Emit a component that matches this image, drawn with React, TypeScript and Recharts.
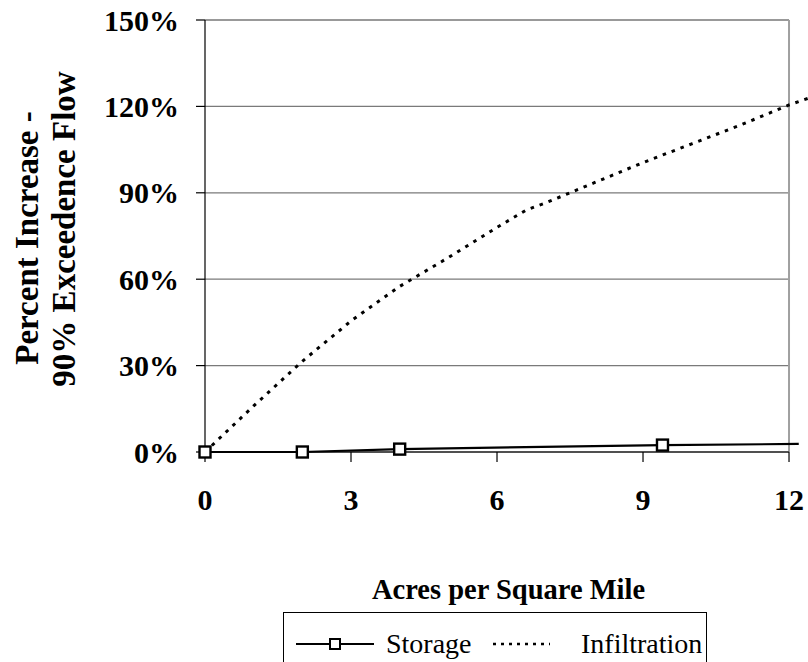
import React from 'react';
import { LineChart, Line, XAxis, YAxis, ReferenceLine, Legend, Label } from 'recharts';

// Acres of control per square mile vs. percent increase in the 90% exceedence flow
const storageAcres = [0, 2, 4, 9.4, 12.2];
const storageIncrease = [0, 0, 1, 2.4, 2.8];

const infiltrationAcres = [0, 1, 2, 3, 4, 5, 6, 6.6, 7, 8, 9, 10, 11, 12, 12.39];
const infiltrationIncrease = [0, 16, 31.5, 45.5, 57.5, 67.5, 78, 84, 86.5, 93.5, 100.5, 107, 113.5, 120.5, 122.8];

const seriesNames = ['Storage', 'Infiltration'];
const xTicks = [0, 3, 6, 9, 12];
const yTicks = [0, 30, 60, 90, 120, 150];
const xTitle = 'Acres per Square Mile';
const yTitleLines = ['Percent Increase -', '90% Exceedence Flow'];

const storageData = storageAcres.map((x, i) => ({ x, y: storageIncrease[i] }));
const infiltrationData = infiltrationAcres.map((x, i) => ({ x, y: infiltrationIncrease[i] }));

const SERIF = "'Liberation Serif', 'Times New Roman', Times, serif";
const X_MAX = 12;

const SquareDot = (props: any) => {
  const { cx, cy, index } = props;
  if (index === storageData.length - 1 || cx == null || cy == null) {
    return <g key={`sq-${index}`} />;
  }
  return (
    <rect
      key={`sq-${index}`}
      x={cx - 5.5}
      y={cy - 5.5}
      width={11}
      height={11}
      fill="#ffffff"
      stroke="#000000"
      strokeWidth={2.4}
    />
  );
};

const textStyle = { fontFamily: SERIF };

const LegendBox = () => (
  <div
    style={{
      width: 424,
      height: 60,
      border: '1px solid #000',
      boxSizing: 'border-box',
      background: '#fff',
    }}
  >
    <svg width={424} height={60} style={{ display: 'block' }}>
      <line x1={12} x2={90} y1={31} y2={31} stroke="#000" strokeWidth={2} />
      <rect x={46} y={26} width={10} height={10} fill="#fff" stroke="#000" strokeWidth={2} />
      <text x={102} y={40} style={{ ...textStyle, fontSize: 28 }} fill="#000">
        {seriesNames[0]}
      </text>
      <line x1={209} x2={266} y1={31} y2={31} stroke="#000" strokeWidth={2.5} strokeDasharray="3 5" />
      <text x={297} y={40} style={{ ...textStyle, fontSize: 28 }} fill="#000">
        {seriesNames[1]}
      </text>
    </svg>
  </div>
);

const XTitle = (props: any) => {
  const vb = props.viewBox || { x: 205, y: 452, width: 603, height: 210 };
  return (
    <text
      x={vb.x + vb.width / 2 + 2}
      y={vb.y + 147}
      textAnchor="middle"
      style={{ ...textStyle, fontWeight: 'bold', fontSize: 28.5 }}
      fill="#000"
    >
      {xTitle}
    </text>
  );
};

const YTitle = (props: any) => {
  const vb = props.viewBox || { x: 0, y: 20, width: 205, height: 432 };
  const mid = vb.y + vb.height / 2;
  const xs = [38, 75];
  const cys = [mid + 2, mid - 7];
  return (
    <g>
      {yTitleLines.map((t, i) => (
        <text
          key={t}
          x={xs[i]}
          y={cys[i]}
          transform={`rotate(-90, ${xs[i]}, ${cys[i]})`}
          textAnchor="middle"
          style={{ ...textStyle, fontWeight: 'bold', fontSize: 33 }}
          fill="#000"
        >
          {t}
        </text>
      ))}
    </g>
  );
};

const tickStyle = { fontFamily: SERIF, fontWeight: 'bold', fontSize: 30, fill: '#000' };

export default function App() {
  return (
    <div
      style={{
        position: 'fixed',
        left: 0,
        top: 0,
        width: 808,
        height: 662,
        background: '#fff',
        fontFamily: SERIF,
      }}
    >
      <LineChart width={808} height={662} margin={{ top: 20, right: 0, bottom: 0, left: 0 }}>
        <XAxis
          type="number"
          dataKey="x"
          domain={[0, 12.39]}
          ticks={xTicks}
          height={210}
          axisLine={false}
          tickLine={{ stroke: '#000', strokeWidth: 1.2 }}
          tickSize={10}
          tickMargin={27}
          tick={tickStyle}
          interval={0}
        >
          <Label content={<XTitle />} />
        </XAxis>
        <YAxis
          type="number"
          domain={[0, 150]}
          ticks={yTicks}
          width={205}
          tickFormatter={(v: number) => `${v}%`}
          axisLine={{ stroke: '#000', strokeWidth: 1.2 }}
          tickLine={{ stroke: '#000', strokeWidth: 1.2 }}
          tickSize={9}
          tickMargin={17}
          tick={tickStyle}
          interval={0}
        >
          <Label content={<YTitle />} />
        </YAxis>

        {yTicks
          .filter((v) => v > 0)
          .map((v) => (
            <ReferenceLine
              key={`grid-${v}`}
              segment={[
                { x: 0, y: v },
                { x: X_MAX, y: v },
              ]}
              stroke={v === 150 ? '#999999' : '#7a7a7a'}
              strokeWidth={v === 150 ? 2 : 1.3}
            />
          ))}
        <ReferenceLine
          segment={[
            { x: X_MAX, y: 0 },
            { x: X_MAX, y: 150 },
          ]}
          stroke="#a0a0a0"
          strokeWidth={2}
        />
        <ReferenceLine
          segment={[
            { x: 0, y: 0 },
            { x: X_MAX, y: 0 },
          ]}
          stroke="#505050"
          strokeWidth={2}
        />

        <Line
          data={infiltrationData}
          dataKey="y"
          name={seriesNames[1]}
          type="linear"
          stroke="#000"
          strokeWidth={3}
          strokeDasharray="3.5 6"
          dot={false}
          activeDot={false}
          isAnimationActive={false}
        />
        <Line
          data={storageData}
          dataKey="y"
          name={seriesNames[0]}
          type="linear"
          stroke="#000"
          strokeWidth={2.2}
          dot={SquareDot}
          activeDot={false}
          isAnimationActive={false}
        />

        <Legend
          layout="horizontal"
          align="center"
          verticalAlign="middle"
          wrapperStyle={{ top: 612, left: 283, width: 424, height: 60 }}
          content={<LegendBox />}
        />
      </LineChart>
    </div>
  );
}
